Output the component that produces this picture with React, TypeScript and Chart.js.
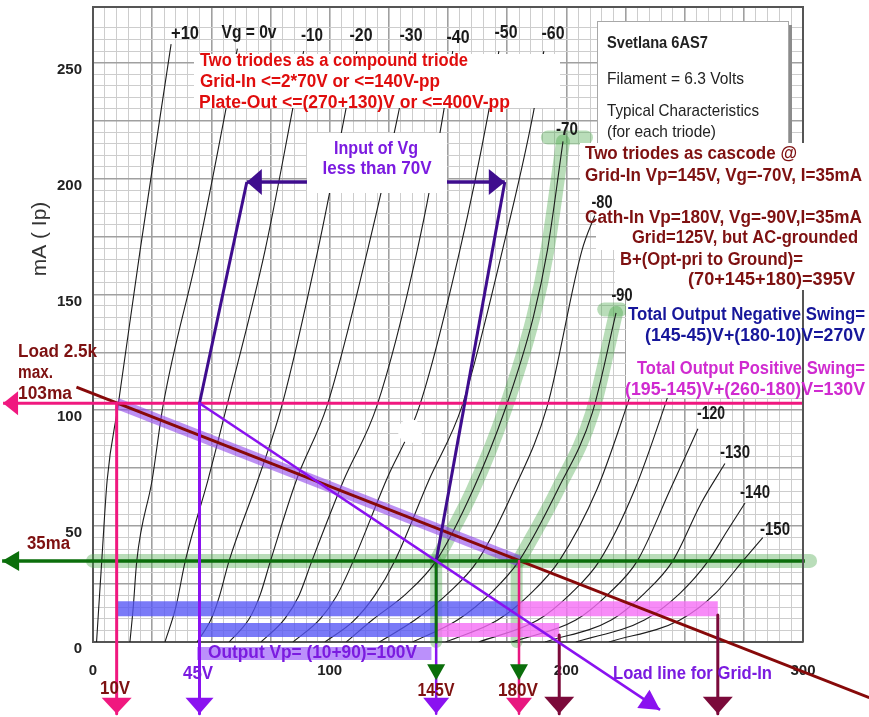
import React, { useEffect, useRef } from 'react';
import { Chart, registerables } from 'chart.js';

Chart.register(...registerables);

// ---- Characteristic curves of the 6AS7 triode: [plate volts, plate mA] ----
const curveP10 = [[1.5, 0], [3.7, 35], [6, 70], [10.6, 102], [19.9, 169], [33, 258]];
const curve0 = [[15.6, 0], [17, 15], [18.5, 35], [25, 70], [29.6, 102], [44.4, 169], [55.8, 228], [61, 256]];
const curveM10 = [[30.4, 0], [35, 15], [39, 35], [48.6, 70], [56.6, 102], [72.7, 169], [84, 228], [89, 255]];
const curveM20 = [[44, 0], [50, 10], [53.5, 20], [57.5, 35], [69.7, 70], [79.8, 102], [95, 169], [106.5, 228], [111.5, 255]];
const curveM30 = [[57.5, 0], [66, 10], [70.5, 20], [75, 35], [86, 70], [98.9, 102], [116, 169], [129, 228], [134, 255]];
const curveM40 = [[71, 0], [81, 10], [87, 20], [92.5, 35], [106, 70], [120, 102], [137, 169], [148, 228], [152, 255]];
const curveM50 = [[84.5, 0], [96, 10], [103, 20], [110, 35], [124, 70], [138, 102], [155, 169], [167, 228], [171.5, 255]];
const curveM60 = [[98, 0], [110, 9], [119, 20], [127.5, 35], [142, 70], [156, 102], [173, 169], [186, 228], [190.5, 255]];
const curveM70 = [[107, 0], [118, 9.5], [132.5, 21], [145, 35], [160.5, 65.5], [174, 100], [186, 140], [192, 169], [198.6, 216]];
const curveM80 = [[121, 0], [136, 9.5], [150, 21], [162.5, 35], [178, 66], [192, 102], [206.6, 169], [212, 184]];
const curveM90 = [[135, 0], [154, 9.5], [168, 21], [180, 35], [196.5, 66], [211, 99], [221, 142]];
const curveM100 = [[149, 0], [171, 9.5], [185, 21], [197, 35], [213, 66], [225.6, 102], [227.5, 108]];
const curveM110 = [[163, 0], [188, 9.5], [202, 21], [214, 35], [229, 66], [241.6, 102], [243.5, 108]];
const curveM120 = [[177, 0], [204, 9.5], [218, 21], [230, 35], [244, 66], [255.6, 92]];
const curveM130 = [[191, 0], [219, 9.5], [233, 21], [245, 35], [257, 60], [267, 77]];
const curveM140 = [[204, 0], [233, 9.5], [248, 21], [260, 35], [268, 48], [275.5, 60]];
const curveM150 = [[218, 0], [248, 9.5], [263, 21], [274.6, 35], [283, 45]];

const curves = [curveP10, curve0, curveM10, curveM20, curveM30, curveM40, curveM50, curveM60,
  curveM70, curveM80, curveM90, curveM100, curveM110, curveM120, curveM130, curveM140, curveM150];

const xTickLabels = [0, 100, 200, 300];
const yTickLabels = [0, 50, 100, 150, 200, 250];

// ---- Operating values (volts, mA) ----
const currentMax = 103;
const currentQ = 35;
const vMax = 10;
const vIn = 45;
const vGridIn = 145;
const vCathIn = 180;
const vPosA = 197;
const vPosB = 264;
const loadLine = [[-7, 110], [328, -24]];
const gridInLoadLine = [[vIn, currentMax], [239.6, -29.3]];
const inputTop = [[65, 198.5], [174, 198.5]];
const band70Top = [[192.2, 217.7], [208.3, 217.7]];
const band90Top = [[216, 143.5], [223, 143.5]];
const swingUpperI = 14.4;
const swingLowerI = 5.2;
const outputBar = [[44, -5], [143, -5]];
const arrowTipI = -31;
const greenArrowI = [-9, -16.5];
const leftTipV = -38;

const FONT = '"Liberation Sans", Arial, sans-serif';
const STYLES: Record<string, [string, string]> = {
  curve: [`bold 18px ${FONT}`, '#1a1a1a'],
  red: [`bold 18px ${FONT}`, '#e00d0d'],
  dark: [`bold 18px ${FONT}`, '#7e1111'],
  blue: [`bold 18px ${FONT}`, '#16169a'],
  mag: [`bold 18px ${FONT}`, '#d02bd0'],
  violet: [`bold 18px ${FONT}`, '#7b1be0'],
  svB: [`bold 17px ${FONT}`, '#222222'],
  sv: [`17px ${FONT}`, '#222222'],
};

// text, x, y, width, align, style  (page layout in pixels)
const notes: [string, number, number, number, string, string][] = [
  ['+10', 185, 33, 28, 'center', 'curve'],
  ['Vg = 0v', 249, 32, 55, 'center', 'curve'],
  ['-10', 312, 35, 22, 'center', 'curve'],
  ['-20', 361, 35, 23, 'center', 'curve'],
  ['-30', 411, 35, 23, 'center', 'curve'],
  ['-40', 458, 37, 23, 'center', 'curve'],
  ['-50', 506, 32, 23, 'center', 'curve'],
  ['-60', 553, 33, 23, 'center', 'curve'],
  ['-70', 567, 129, 22, 'center', 'curve'],
  ['-80', 602, 202, 21, 'center', 'curve'],
  ['-90', 622, 295, 21, 'center', 'curve'],
  ['-120', 711, 413, 28, 'center', 'curve'],
  ['-130', 735, 452, 30, 'center', 'curve'],
  ['-140', 755, 492, 30, 'center', 'curve'],
  ['-150', 775, 529, 30, 'center', 'curve'],
  ['Two triodes as a compound triode', 200, 60, 268, 'left', 'red'],
  ['Grid-In <=2*70V or <=140V-pp', 200, 81, 240, 'left', 'red'],
  ['Plate-Out <=(270+130)V or <=400V-pp', 199, 102, 311, 'left', 'red'],
  ['Input of Vg', 376, 148, 84, 'center', 'violet'],
  ['less than 70V', 377, 168, 109, 'center', 'violet'],
  ['Svetlana 6AS7', 607, 42, 101, 'left', 'svB'],
  ['Filament = 6.3 Volts', 607, 78, 137, 'left', 'sv'],
  ['Typical Characteristics', 607, 110, 152, 'left', 'sv'],
  ['(for each triode)', 607, 131, 109, 'left', 'sv'],
  ['Two triodes as cascode @', 585, 153, 212, 'left', 'dark'],
  ['Grid-In Vp=145V, Vg=-70V, I=35mA', 585, 175, 277, 'left', 'dark'],
  ['Cath-In Vp=180V, Vg=-90V,I=35mA', 585, 217, 277, 'left', 'dark'],
  ['Grid=125V, but AC-grounded', 632, 237, 226, 'left', 'dark'],
  ['B+(Opt-pri to Ground)=', 620, 259, 183, 'left', 'dark'],
  ['(70+145+180)=395V', 688, 279, 167, 'left', 'dark'],
  ['Total Output Negative Swing=', 628, 314, 237, 'left', 'blue'],
  ['(145-45)V+(180-10)V=270V', 645, 335, 220, 'left', 'blue'],
  ['Total Output Positive Swing=', 637, 368, 228, 'left', 'mag'],
  ['(195-145)V+(260-180)V=130V', 625, 389, 240, 'left', 'mag'],
  ['Load 2.5k', 18, 351, 79, 'left', 'dark'],
  ['max.', 18, 372, 35, 'left', 'dark'],
  ['103ma', 18, 393, 54, 'left', 'dark'],
  ['35ma', 27, 543, 43, 'left', 'dark'],
  ['10V', 115, 688, 30, 'center', 'dark'],
  ['45V', 198, 673, 30, 'center', 'violet'],
  ['145V', 436, 690, 37, 'center', 'dark'],
  ['180V', 518, 690, 40, 'center', 'dark'],
  ['Output Vp= (10+90)=100V', 208, 652, 209, 'left', 'violet'],
  ['Load line for Grid-In', 613, 673, 159, 'left', 'violet'],
];

// white backgrounds behind the text blocks (page pixels)
const whiteBoxes = [
  [194, 54, 560, 108],
  [307, 133, 447, 193],
  [580, 143, 869, 212],
  [596, 212, 869, 250],
  [615, 250, 869, 292],
  [626, 292, 869, 398],
];
const svetBox = [597, 21, 788, 143];

function fitText(ctx: CanvasRenderingContext2D, s: string, x: number, y: number, w: number, align: string, style: string) {
  const [font, color] = STYLES[style];
  ctx.save();
  ctx.font = font;
  const m = ctx.measureText(s).width;
  const sx = w / m;
  const left = align === 'center' ? x - w / 2 : align === 'right' ? x - w : x;
  ctx.fillStyle = color;
  ctx.textBaseline = 'middle';
  ctx.textAlign = 'left';
  ctx.translate(left, y + 1);
  ctx.scale(sx, 1);
  ctx.fillText(s, 0, 0);
  ctx.restore();
}

function pickTickFont() {
  const c = document.createElement('canvas').getContext('2d')!;
  c.font = 'bold 20px monospace';
  const a = c.measureText('0123456789').width;
  c.font = 'bold 20px "Liberation Sans Narrow", monospace';
  const b = c.measureText('0123456789').width;
  return a !== b ? { family: '"Liberation Sans Narrow"', size: 18, weight: 'bold' as const } : { family: '"Liberation Sans"', size: 15, weight: 'bold' as const };
}

function line(data: number[][], color: string, width: number, extra: any = {}) {
  return {
    data: data.map(([x, y]) => ({ x, y })),
    showLine: true,
    borderColor: color,
    backgroundColor: color,
    borderWidth: width,
    pointRadius: 0,
    pointHoverRadius: 0,
    fill: false,
    clip: false,
    borderCapStyle: 'butt',
    borderJoinStyle: 'round',
    ...extra,
  };
}

const annotate = {
  id: 'annotate',
  afterDatasetsDraw(chart: any) {
    const ctx: CanvasRenderingContext2D = chart.ctx;
    const xs = chart.scales.x;
    const ys = chart.scales.y;
    const a = chart.chartArea;
    ctx.save();
    // top and right frame
    ctx.strokeStyle = '#555';
    ctx.lineWidth = 2;
    ctx.beginPath();
    ctx.moveTo(a.left, a.top);
    ctx.lineTo(a.right, a.top);
    ctx.lineTo(a.right, a.bottom);
    ctx.stroke();
    // svetlana box with shadow
    ctx.fillStyle = '#8c8c8c';
    ctx.fillRect(svetBox[2], svetBox[1] + 4, 4, svetBox[3] - svetBox[1]);
    ctx.fillStyle = '#ffffff';
    ctx.fillRect(svetBox[0], svetBox[1], svetBox[2] - svetBox[0], svetBox[3] - svetBox[1]);
    ctx.strokeStyle = '#a8a8a8';
    ctx.lineWidth = 1;
    ctx.strokeRect(svetBox[0] + 0.5, svetBox[1] + 0.5, svetBox[2] - svetBox[0], svetBox[3] - svetBox[1]);
    // white text backgrounds
    ctx.fillStyle = '#ffffff';
    whiteBoxes.forEach(([x0, y0, x1, y1]) => ctx.fillRect(x0, y0, x1 - x0, y1 - y0));
    // right frame visible again below the B+ text
    ctx.strokeStyle = '#555';
    ctx.lineWidth = 2;
    ctx.beginPath();
    ctx.moveTo(a.right, 290);
    ctx.lineTo(a.right, a.bottom);
    ctx.stroke();
    // white speck in the plot
    ctx.fillStyle = '#ffffff';
    ctx.beginPath();
    ctx.arc(410, 431, 12, 0, Math.PI * 2);
    ctx.fill();
    // arrow heads at the ends of the marked lines
    chart.data.datasets.forEach((ds: any) => {
      if (!ds.arrow) return;
      const n = ds.data.length;
      const p1 = ds.data[n - 1];
      const p0 = ds.data[n - 2];
      const tx = xs.getPixelForValue(p1.x), ty = ys.getPixelForValue(p1.y);
      const bx = xs.getPixelForValue(p0.x), by = ys.getPixelForValue(p0.y);
      const d = Math.hypot(tx - bx, ty - by) || 1;
      const ux = (tx - bx) / d, uy = (ty - by) / d;
      const { len, half, color } = ds.arrow;
      ctx.fillStyle = color || ds.borderColor;
      ctx.beginPath();
      ctx.moveTo(tx, ty);
      ctx.lineTo(tx - ux * len - uy * half, ty - uy * len + ux * half);
      ctx.lineTo(tx - ux * len + uy * half, ty - uy * len - ux * half);
      ctx.closePath();
      ctx.fill();
    });
    // texts
    notes.forEach(([s, x, y, w, al, st]) => fitText(ctx, s, x, y, w, al, st));
    // y axis title
    ctx.save();
    ctx.translate(40, 239);
    ctx.rotate(-Math.PI / 2);
    ctx.font = `21px ${FONT}`;
    ctx.fillStyle = '#333';
    ctx.textAlign = 'center';
    ctx.textBaseline = 'middle';
    ctx.fillText('mA ( Ip)', 0, 0);
    ctx.restore();
    ctx.restore();
  },
};

export default function App() {
  const ref = useRef<HTMLCanvasElement>(null);
  useEffect(() => {
    const GREEN_BAND = 'rgba(70,165,70,0.38)';
    const DARK_GREEN = '#0b6e0b';
    const PINK = '#f0187f';
    const VIOLET = '#8a12f0';
    const MAROON = '#7b0a3a';
    const INDIGO = '#3f0d8e';
    const mono = { cubicInterpolationMode: 'monotone' };
    const list: any[] = [];
    list.push(line([[0, currentQ], [303, currentQ]], GREEN_BAND, 14, { borderCapStyle: 'round' }));
    list.push(line(curveM70.filter((p) => p[1] >= currentQ), GREEN_BAND, 14, { borderCapStyle: 'round', ...mono }));
    list.push(line(band70Top, GREEN_BAND, 14, { borderCapStyle: 'round' }));
    list.push(line(curveM90.filter((p) => p[1] >= currentQ), GREEN_BAND, 14, { borderCapStyle: 'round', ...mono }));
    list.push(line(band90Top, GREEN_BAND, 14, { borderCapStyle: 'round' }));
    list.push(line([[vGridIn, currentQ], [vGridIn, 0]], GREEN_BAND, 12));
    list.push(line([[vCathIn - 1, currentQ], [vCathIn - 1, 0]], GREEN_BAND, 12));
    curves.forEach((c) => list.push(line(c, '#1c1c1c', 1.1, { ...mono, clip: 0 })));
    list.push(line([[vMax, swingUpperI], [vCathIn, swingUpperI]], 'rgba(85,85,245,0.78)', 15));
    list.push(line([[vIn, swingLowerI], [vGridIn, swingLowerI]], 'rgba(85,85,245,0.78)', 14));
    list.push(line([[vCathIn, swingUpperI], [vPosB, swingUpperI]], 'rgba(245,110,245,0.8)', 15));
    list.push(line([[vGridIn, swingLowerI], [vPosA, swingLowerI]], 'rgba(245,110,245,0.8)', 14));
    list.push(line(outputBar, 'rgba(175,125,250,0.85)', 13));
    list.push(line([[vMax, currentMax], [vCathIn, currentQ]], 'rgba(145,70,235,0.6)', 11));
    list.push(line(loadLine, '#870909', 3));
    list.push(line([[300, currentMax], [leftTipV, currentMax]], PINK, 3, { arrow: { len: 15, half: 12 } }));
    list.push(line([[300.8, currentQ], [leftTipV - 0.4, currentQ]], DARK_GREEN, 3.5, { arrow: { len: 17, half: 10 } }));
    list.push(line([[vIn, currentMax], inputTop[0]], INDIGO, 3));
    list.push(line([[vGridIn, currentQ], inputTop[1]], INDIGO, 3));
    const mid = (inputTop[0][0] + inputTop[1][0]) / 2;
    list.push(line([[mid, inputTop[0][1]], inputTop[0]], INDIGO, 3.5, { arrow: { len: 15, half: 13 } }));
    list.push(line([[mid, inputTop[1][1]], inputTop[1]], INDIGO, 3.5, { arrow: { len: 16, half: 13 } }));
    list.push(line([[vGridIn, currentQ], [vGridIn, arrowTipI]], VIOLET, 2.5, { arrow: { len: 16, half: 13 } }));
    list.push(line([[vMax, currentMax], [vMax, arrowTipI]], PINK, 3, { arrow: { len: 16, half: 15 } }));
    list.push(line([[vIn, currentMax], [vIn, arrowTipI]], VIOLET, 3, { arrow: { len: 16, half: 14 } }));
    list.push(line([[vCathIn, currentQ], [vCathIn, arrowTipI]], '#e8177f', 2.5, { arrow: { len: 16, half: 13 } }));
    list.push(line([[vPosA, 3], [vPosA, arrowTipI]], MAROON, 3, { arrow: { len: 17, half: 15 } }));
    list.push(line([[vPosB, 11.6], [vPosB, arrowTipI]], MAROON, 3, { arrow: { len: 17, half: 15 } }));
    list.push(line([[vGridIn, currentQ], [vGridIn, 0]], DARK_GREEN, 3));
    list.push(line(gridInLoadLine, VIOLET, 2.5, { arrow: { len: 20, half: 11 } }));
    list.push(line([[vGridIn, greenArrowI[0]], [vGridIn, greenArrowI[1]]], 'rgba(0,0,0,0)', 0, { arrow: { len: 16, half: 9, color: DARK_GREEN } }));
    list.push(line([[vCathIn, greenArrowI[0]], [vCathIn, greenArrowI[1]]], 'rgba(0,0,0,0)', 0, { arrow: { len: 16, half: 9, color: DARK_GREEN } }));
    const datasets = list.map((d, i) => ({ ...d, order: list.length - i }));

    const tickFont = pickTickFont();
    const major = (c: any) => c.tick && Math.abs(c.tick.value % 25) < 1e-6;
    const chart = new Chart(ref.current!, {
      type: 'scatter',
      data: { datasets },
      options: {
        animation: false,
        responsive: false,
        maintainAspectRatio: false,
        devicePixelRatio: 1,
        events: [],
        layout: { padding: { left: 0, right: 66, top: 7, bottom: 0 } },
        plugins: { legend: { display: false }, tooltip: { enabled: false } },
        scales: {
          x: {
            type: 'linear',
            min: 0,
            max: 300,
            afterFit: (s: any) => { s.height = 75; s.paddingLeft = 0; s.paddingRight = 0; },
            ticks: {
              stepSize: 5,
              autoSkip: false,
              maxTicksLimit: 200,
              maxRotation: 0,
              padding: 20,
              color: '#222',
              font: tickFont,
              callback: (v: any) => (xTickLabels.includes(Number(v)) ? String(v) : ''),
            },
            grid: {
              drawTicks: false,
              color: (c: any) => (major(c) ? '#a0a0a0' : '#cdcdcd'),
              lineWidth: (c: any) => (major(c) ? 1.6 : 1),
            },
            border: { display: true, color: '#555', width: 2 },
          },
          y: {
            type: 'linear',
            min: 0,
            max: 274,
            afterFit: (s: any) => { s.width = 93; s.paddingTop = 0; s.paddingBottom = 0; },
            ticks: {
              stepSize: 5,
              autoSkip: false,
              maxTicksLimit: 200,
              padding: 11,
              labelOffset: 7,
              color: '#222',
              font: tickFont,
              callback: (v: any) => (yTickLabels.includes(Number(v)) ? String(v) : ''),
            },
            grid: {
              drawTicks: false,
              color: (c: any) => (major(c) ? '#a0a0a0' : '#cdcdcd'),
              lineWidth: (c: any) => (major(c) ? 1.6 : 1),
            },
            border: { display: true, color: '#555', width: 2 },
          },
        },
      } as any,
      plugins: [annotate],
    });
    return () => chart.destroy();
  }, []);
  return (
    <div style={{ position: 'absolute', left: 0, top: 0, width: 869, height: 717, background: '#fff' }}>
      <canvas ref={ref} width={869} height={717} style={{ display: 'block', width: 869, height: 717 }} />
    </div>
  );
}
